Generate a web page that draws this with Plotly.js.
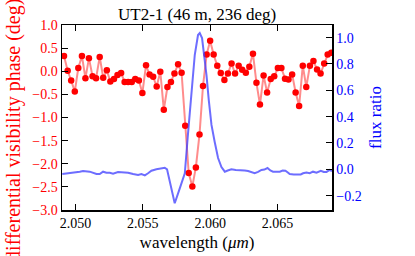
<!DOCTYPE html>
<html>
<head>
<meta charset="utf-8">
<script src="https://cdn.plot.ly/plotly-3.0.1.min.js"></script>
<style>html,body{margin:0;padding:0;background:#fff}#plot{width:415px;height:256px}</style>
</head>
<body>
<div id="plot"></div>
<script>
var phaseWave = [2.04915,2.04942,2.04968,2.04995,2.05021,2.05048,2.05074,2.05100,2.05127,2.05153,
2.05180,2.05206,2.05233,2.05259,2.05286,2.05312,2.05339,2.05365,2.05391,2.05418,
2.05444,2.05471,2.05497,2.05524,2.05550,2.05577,2.05603,2.05630,2.05656,2.05683,
2.05709,2.05735,2.05762,2.05788,2.05815,2.05841,2.05868,2.05894,2.05921,2.05947,
2.05974,2.06000,2.06026,2.06053,2.06079,2.06106,2.06132,2.06159,2.06185,2.06212,
2.06238,2.06265,2.06291,2.06318,2.06344,2.06370,2.06397,2.06423,2.06450,2.06476,
2.06503,2.06529,2.06556,2.06582,2.06609,2.06635,2.06661,2.06688,2.06714,2.06741,
2.06767,2.06794,2.06820,2.06847,2.06873,2.06900];
var phaseDeg = [0.33,0.01,-0.20,-0.44,0.07,0.33,-0.15,0.28,-0.11,-0.15,
0.31,-0.14,0.02,-0.22,-0.17,-0.08,-0.04,-0.23,-0.23,-0.23,
-0.17,-0.20,-0.47,0.13,-0.07,-0.12,-0.33,-0.01,-0.83,-0.34,
-0.23,-0.05,0.15,-0.03,-1.18,-2.20,-2.49,-2.08,-1.37,-0.32,
0.36,0.66,0.36,0.12,-0.04,-0.19,-0.05,0.17,-0.05,0.12,
0.03,-0.03,0.10,0.38,-0.25,-0.72,-0.09,-0.46,-0.17,-0.11,
0.07,0.07,-0.16,-0.18,-0.07,-0.46,-0.75,0.12,-0.34,0.12,
0.22,0.04,-0.05,0.17,0.36,0.40];
var fluxWave = [2.04902,2.04958,2.04995,2.05032,2.05056,2.05106,2.05156,2.05180,2.05205,2.05230,
2.05255,2.05279,2.05316,2.05353,2.05391,2.05428,2.05465,2.05490,2.05515,2.05539,
2.05564,2.05601,2.05639,2.05663,2.05680,2.05708,2.05737,2.05769,2.05812,2.05834,
2.05860,2.05886,2.05910,2.05923,2.05940,2.05956,2.05973,2.05990,2.06010,2.06034,
2.06059,2.06084,2.06109,2.06131,2.06158,2.06190,2.06233,2.06257,2.06282,2.06307,
2.06331,2.06356,2.06381,2.06403,2.06426,2.06447,2.06467,2.06495,2.06517,2.06539,
2.06559,2.06577,2.06591,2.06621,2.06653,2.06673,2.06690,2.06715,2.06740,2.06764,
2.06790,2.06822,2.06844,2.06864,2.06888,2.06905];
var fluxRatio = [-0.035,-0.030,-0.026,-0.018,-0.013,-0.018,-0.036,-0.036,-0.018,-0.026,
-0.026,-0.033,-0.020,-0.022,-0.026,-0.036,-0.043,-0.036,-0.046,-0.030,
-0.011,0.000,0.008,0.012,0.000,-0.132,-0.258,-0.162,-0.030,0.25,
0.58,0.87,1.02,1.035,0.997,0.868,0.716,0.526,0.337,0.207,
0.086,0.017,-0.018,-0.009,0.000,-0.005,-0.005,-0.009,-0.013,-0.024,
-0.030,-0.020,-0.005,-0.002,0.010,-0.009,-0.018,-0.018,-0.018,-0.009,
-0.011,-0.024,-0.036,-0.039,-0.041,-0.039,-0.030,-0.024,-0.030,-0.018,
-0.026,-0.011,-0.020,-0.020,-0.005,-0.013];
var xTicks = [2.050,2.055,2.060,2.065];
var xTickText = ['2.050','2.055','2.060','2.065'];

var FONT = 'Liberation Serif, Times New Roman, serif';
var traces = [
  {x: phaseWave, y: phaseDeg, type: 'scatter', mode: 'lines+markers', yaxis: 'y',
   line: {color: 'rgba(255,0,0,0.45)', width: 2},
   marker: {color: 'rgb(255,0,0)', size: 6.5, line: {width: 0}}, hoverinfo: 'skip'},
  {x: fluxWave, y: fluxRatio, type: 'scatter', mode: 'lines', yaxis: 'y2',
   line: {color: 'rgba(60,60,255,0.75)', width: 2}, hoverinfo: 'skip'}
];
var layout = {
  width: 415, height: 256,
  margin: {l: 62, r: 83, t: 25, b: 46},
  paper_bgcolor: '#fff', plot_bgcolor: '#fff',
  showlegend: false,
  font: {family: FONT, size: 14, color: '#000'},
  title: {text: 'UT2-1 (46 m, 236 deg)', font: {family: FONT, size: 17, color: '#000'},
          x: 0.475, xanchor: 'center', y: 0.945, yanchor: 'middle', yref: 'container'},
  xaxis: {range: [2.049, 2.06905], tickvals: xTicks, ticktext: xTickText,
          ticks: 'inside', ticklen: 6, tickwidth: 1, tickcolor: '#000',
          showline: true, linecolor: '#000', linewidth: 1.5, mirror: 'ticks',
          showgrid: false, zeroline: false,
          tickfont: {family: FONT, size: 14, color: '#000'},
          title: {text: 'wavelength (<i>μm</i>)', font: {family: FONT, size: 17, color: '#000'}, standoff: 6}},
  yaxis: {range: [-3, 1], dtick: 0.5, tick0: 0, tickformat: '.1f',
          ticks: 'inside', ticklen: 6, tickwidth: 1, tickcolor: '#000',
          showline: true, linecolor: '#000', linewidth: 1.5, mirror: false,
          showgrid: false, zeroline: false,
          tickfont: {family: FONT, size: 14, color: 'red'}},
  yaxis2: {range: [-0.309, 1.096], dtick: 0.2, tick0: 0, tickformat: '.1f',
          overlaying: 'y', side: 'right', anchor: 'x',
          ticks: 'inside', ticklen: 6, tickwidth: 1, tickcolor: '#000',
          showline: true, linecolor: '#000', linewidth: 1.5,
          showgrid: false, zeroline: false,
          tickfont: {family: FONT, size: 14, color: 'blue'},
          title: {text: 'flux ratio', font: {family: FONT, size: 17, color: 'blue'}, standoff: 8}},
  annotations: [{text: 'differential visibility phase (deg)', textangle: -90,
          xref: 'paper', yref: 'paper', x: -0.18, y: 0.435, xanchor: 'center', yanchor: 'middle',
          showarrow: false, font: {family: FONT, size: 20, color: 'red'}}]
};
Plotly.newPlot('plot', traces, layout, {staticPlot: true, displayModeBar: false});
</script>
</body>
</html>
